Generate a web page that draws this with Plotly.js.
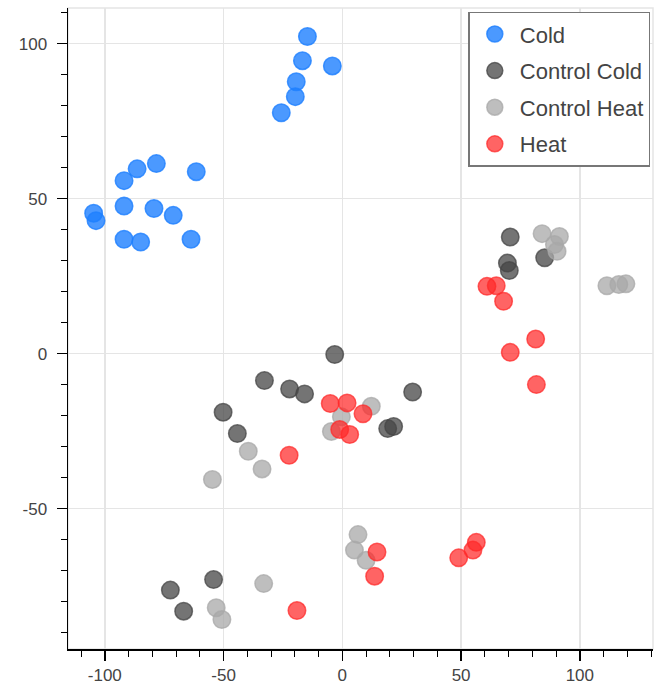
<!DOCTYPE html>
<html>
<head>
<meta charset="utf-8">
<script src="https://cdn.plot.ly/plotly-3.0.1.min.js"></script>
<style>html,body{margin:0;padding:0;background:#fff;}#chart{width:658px;height:686px;}</style>
</head>
<body>
<div id="chart"></div>
<script>
const seriesNames = ["Cold", "Control Cold", "Control Heat", "Heat"];

const coldX = [-14.7, -16.8, -4.2, -19.4, -19.8, -25.7, -61.5, -78.3, -86.4, -91.9, -91.9, -79.3, -71.2, -104.7, -103.7, -91.9, -84.9, -63.7];
const coldY = [102.3, 94.5, 92.8, 87.7, 82.9, 77.7, 58.7, 61.3, 59.6, 55.8, 47.6, 46.8, 44.6, 45.3, 42.9, 36.9, 36.0, 36.9];

const controlColdX = [70.7, 69.5, 70.3, 85.2, -3.2, -32.8, -22.2, -15.9, -50.2, -44.2, 29.6, 19.1, 21.6, -72.4, -66.8, -54.2];
const controlColdY = [37.6, 29.2, 26.8, 30.9, -0.3, -8.7, -11.4, -13.0, -18.9, -25.8, -12.4, -24.2, -23.5, -76.3, -83.1, -72.9];

const controlHeatX = [84.1, 91.4, 89.3, 90.4, 111.4, 116.4, 119.4, -39.6, -33.8, -54.7, -33.1, -53.1, -50.7, 12.2, -0.4, -4.6, 6.6, 5.1, 10.0];
const controlHeatY = [38.7, 37.8, 35.2, 33.0, 21.9, 22.3, 22.5, -31.5, -37.2, -40.6, -74.2, -82.0, -85.8, -17.0, -20.4, -25.1, -58.4, -63.4, -66.7];

const heatX = [-5.1, 2.0, 8.7, -1.1, 3.1, -22.4, -19.1, 14.6, 13.6, 49.0, 55.0, 56.4, 60.9, 64.8, 67.9, 70.7, 81.4, 81.7];
const heatY = [-16.1, -15.9, -19.4, -24.5, -26.1, -32.8, -82.9, -64.0, -71.8, -65.9, -63.4, -60.9, 21.7, 21.9, 16.9, 0.4, 4.7, -10.0];

const colors = ["rgba(30,127,255,0.8)", "rgba(70,70,70,0.75)", "rgba(168,168,168,0.75)", "rgba(255,40,40,0.72)"];
const xs = [coldX, controlColdX, controlHeatX, heatX];
const ys = [coldY, controlColdY, controlHeatY, heatY];

const traces = seriesNames.map((name, i) => ({
  type: "scatter",
  mode: "markers",
  name: name,
  legendgroup: "g" + i,
  x: xs[i],
  y: ys[i],
  marker: {size: 17.5, color: colors[i], line: {color: colors[i], width: 1.5}},
  hoverinfo: "x+y+name"
}));

const tickFont = {family: "Liberation Sans, Arial, sans-serif", size: 17, color: "#444"};

const layout = {
  width: 658,
  height: 686,
  margin: {l: 68, r: 5, t: 8, b: 37, pad: 0},
  paper_bgcolor: "#fff",
  plot_bgcolor: "#fff",
  showlegend: true,
  legend: {
    x: 0.9954, xanchor: "right",
    y: 0.9942, yanchor: "top",
    bgcolor: "#fff",
    bordercolor: "#777",
    borderwidth: 1.5,
    font: {family: "Liberation Sans, Arial, sans-serif", size: 22, color: "#444"},
    itemwidth: 40,
    tracegroupgap: 5
  },
  xaxis: {
    range: [-115.5, 130.8],
    tickvals: [-100, -50, 0, 50, 100],
    ticktext: ["-100", "-50", "0", "50", "100"],
    showgrid: true, gridcolor: "#e5e5e5", gridwidth: 1.5,
    zeroline: false,
    showline: true, linecolor: "#000", linewidth: 1.5,
    ticks: "outside", ticklen: 10, tickwidth: 1.5, tickcolor: "#000",
    minor: {dtick: 10, tick0: 0, ticks: "outside", ticklen: 6, tickwidth: 1, tickcolor: "#000", showgrid: false},
    tickfont: tickFont,
    fixedrange: true
  },
  yaxis: {
    range: [-95.3, 111.5],
    tickvals: [-50, 0, 50, 100],
    ticktext: ["-50", "0", "50", "100"],
    showgrid: true, gridcolor: "#e5e5e5", gridwidth: 1.5,
    zeroline: false,
    showline: true, linecolor: "#000", linewidth: 1.5,
    ticks: "outside", ticklen: 10, tickwidth: 1.5, tickcolor: "#000",
    ticklabelstandoff: 6,
    minor: {dtick: 10, tick0: 0, ticks: "outside", ticklen: 6, tickwidth: 1, tickcolor: "#000", showgrid: false},
    tickfont: tickFont,
    fixedrange: true
  },
  shapes: [{
    type: "rect", xref: "paper", yref: "paper", x0: 0, x1: 1, y0: 0, y1: 1,
    line: {color: "#e5e5e5", width: 1.5}, layer: "below"
  }]
};

Plotly.newPlot("chart", traces, layout, {displayModeBar: false, staticPlot: true});
</script>
</body>
</html>
